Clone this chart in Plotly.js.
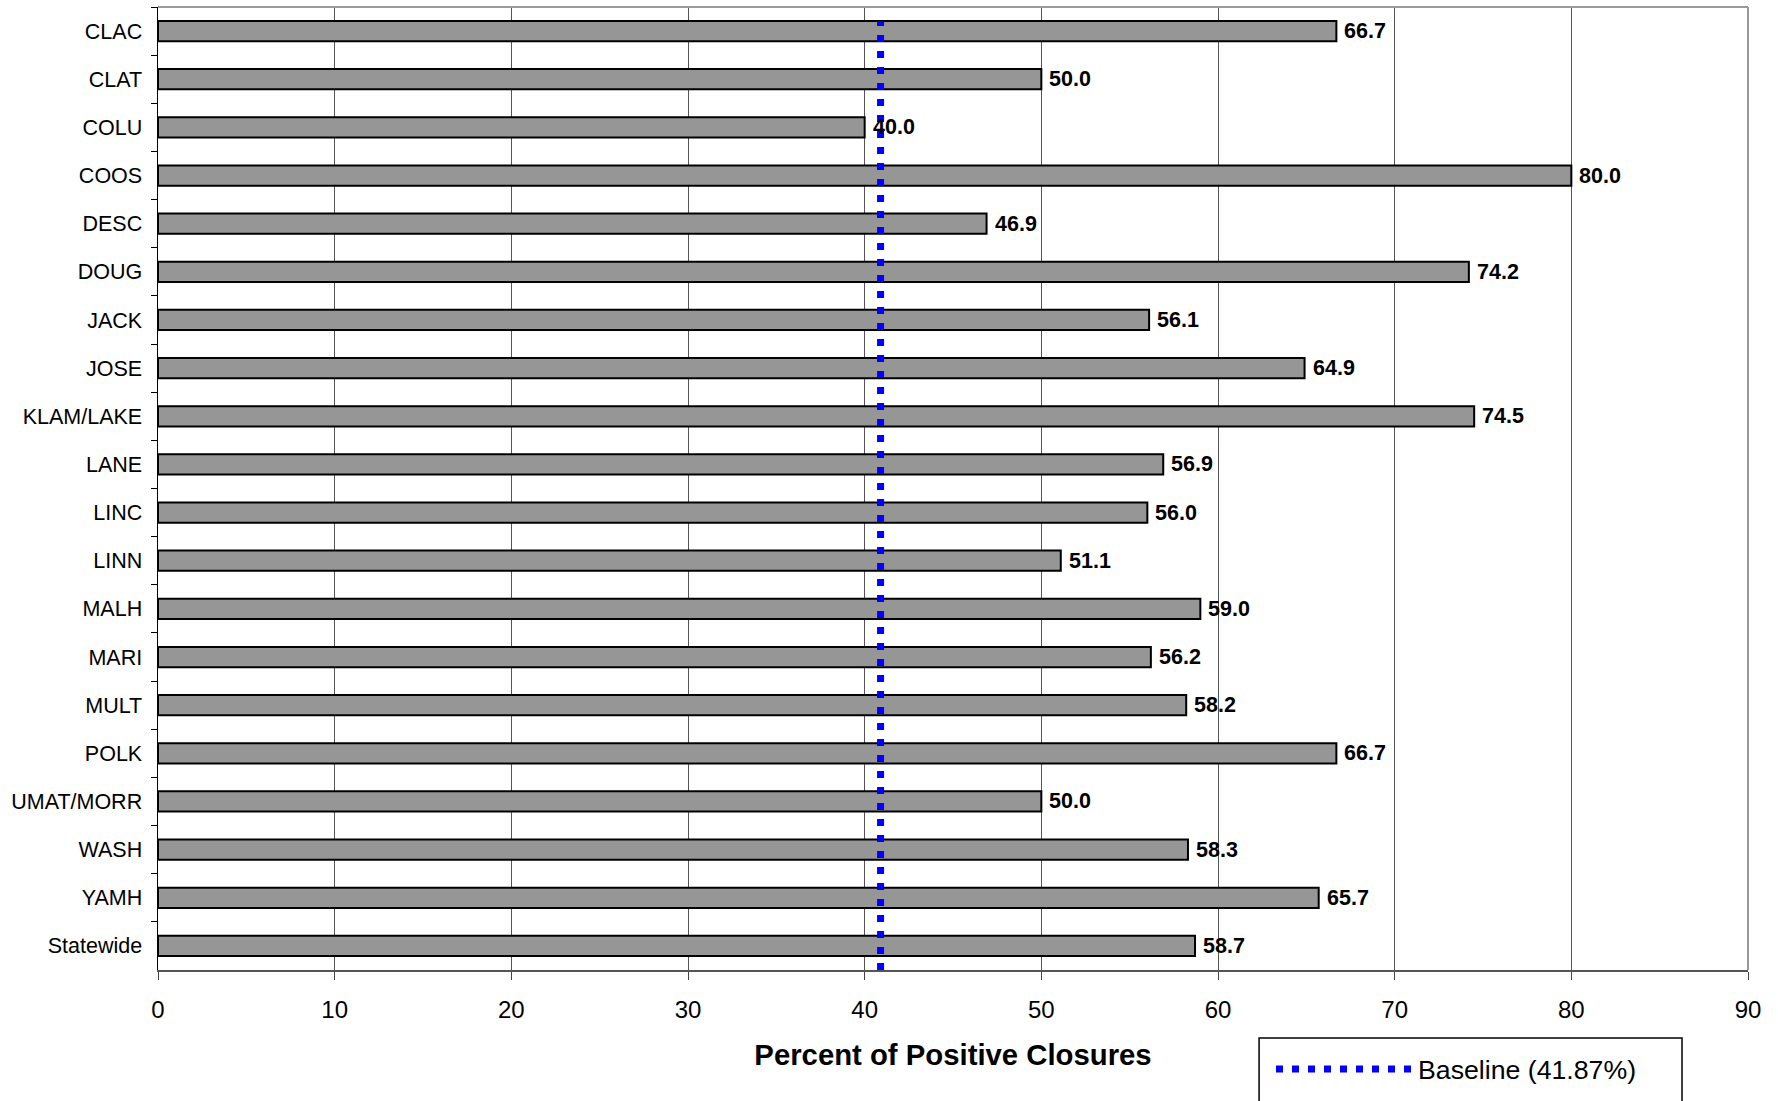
<!DOCTYPE html>
<html>
<head>
<meta charset="utf-8">
<script src="https://cdn.plot.ly/plotly-3.0.1.min.js"></script>
<style>html,body{margin:0;padding:0;background:#fff;}#chart{width:1778px;height:1101px;}</style>
</head>
<body>
<div id="chart"></div>
<script>
const categories = ["CLAC","CLAT","COLU","COOS","DESC","DOUG","JACK","JOSE","KLAM/LAKE","LANE","LINC","LINN","MALH","MARI","MULT","POLK","UMAT/MORR","WASH","YAMH","Statewide"];
const percentPositive = [66.7,50.0,40.0,80.0,46.9,74.2,56.1,64.9,74.5,56.9,56.0,51.1,59.0,56.2,58.2,66.7,50.0,58.3,65.7,58.7];
const baselineName = "Baseline (41.87%)";
const baselineX = [40.9, 40.9];
const baselineY = [0, 0.985];
const xTicks = [0,10,20,30,40,50,60,70,80,90];

const FONT = "Liberation Sans, Arial, sans-serif";

const barTrace = {
  type: "bar",
  orientation: "h",
  y: categories,
  x: percentPositive,
  width: 0.42,
  marker: {color: "#969696", line: {color: "#000", width: 2}},
  showlegend: false,
  hoverinfo: "x+y"
};

const baselineTrace = {
  type: "scatter",
  mode: "lines",
  x: baselineX,
  y: baselineY,
  yaxis: "y2",
  name: baselineName,
  line: {color: "#0000FF", width: 7, dash: "7px,9px"},
  showlegend: true,
  hoverinfo: "skip"
};

const annotations = categories.map((c, i) => ({
  x: percentPositive[i],
  y: c,
  xref: "x",
  yref: "y",
  text: percentPositive[i].toFixed(1),
  showarrow: false,
  xanchor: "left",
  xshift: 6,
  font: {family: FONT, size: 21.5, color: "#000", weight: "bold"}
}));

const layout = {
  width: 1778,
  height: 1101,
  margin: {l: 158, r: 30, t: 7, b: 131},
  paper_bgcolor: "#fff",
  plot_bgcolor: "#fff",
  font: {family: FONT, color: "#000"},
  xaxis: {
    range: [0, 90],
    tickvals: xTicks,
    ticktext: xTicks.map(String),
    ticks: "outside",
    ticklen: 8,
    tickcolor: "#444",
    tickfont: {family: FONT, size: 24, color: "#000"},
    ticklabelstandoff: 10,
    showgrid: true,
    gridcolor: "#555",
    gridwidth: 1,
    showline: true,
    linecolor: "#555",
    linewidth: 1.5,
    mirror: false,
    zeroline: false,
    title: {text: "Percent of Positive Closures", font: {family: FONT, size: 29.3, color: "#000", weight: "bold"}, standoff: 22}
  },
  yaxis: {
    type: "category",
    autorange: "reversed",
    tickson: "boundaries",
    ticks: "outside",
    ticklen: 6,
    tickcolor: "#000",
    tickfont: {family: FONT, size: 21.5, color: "#000"},
    ticklabelstandoff: 10,
    showgrid: false,
    showline: true,
    linecolor: "#000",
    linewidth: 1.5,
    zeroline: false
  },
  yaxis2: {
    overlaying: "y",
    range: [0, 1],
    visible: false,
    fixedrange: true
  },
  shapes: [
    {type: "line", xref: "paper", yref: "paper", x0: 0, x1: 1, y0: 1, y1: 1, line: {color: "#999", width: 2}},
    {type: "line", xref: "paper", yref: "paper", x0: 1, x1: 1, y0: 0, y1: 1, line: {color: "#999", width: 2}},
    {type: "rect", xref: "paper", yref: "paper", x0: 0.6925, x1: 0.9585, y0: -0.0706, y1: -0.16, line: {color: "#000", width: 1.5}, fillcolor: "rgba(0,0,0,0)"}
  ],
  showlegend: true,
  legend: {
    orientation: "h",
    x: 0.700,
    xanchor: "left",
    y: -0.0780,
    yanchor: "top",
    borderwidth: 0,
    bgcolor: "rgba(0,0,0,0)",
    itemwidth: 137,
    entrywidth: 280,
    font: {family: FONT, size: 26.7, color: "#000"}
  },
  annotations: annotations
};

Plotly.newPlot("chart", [barTrace, baselineTrace], layout, {staticPlot: true});
</script>
</body>
</html>
